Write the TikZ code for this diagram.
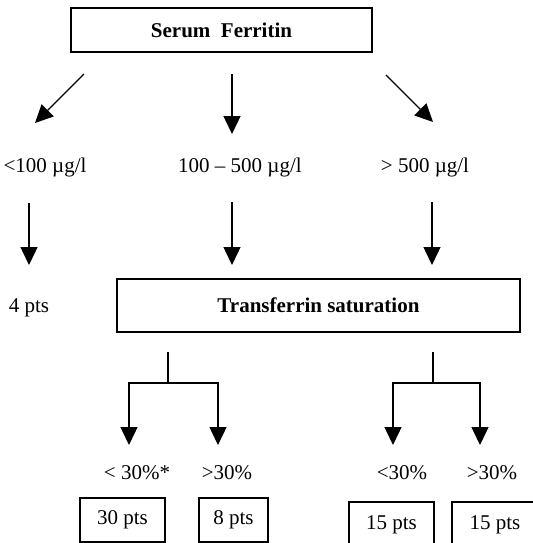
\documentclass[tikz,border=0pt]{standalone}
\usepackage{fontspec}
\setmainfont{Liberation Serif}
\usetikzlibrary{arrows.meta}

\begin{document}
\begin{tikzpicture}[x=0.5pt,y=-0.5pt,
	box/.style={draw,line width=0.9pt,inner sep=0pt,font=\bfseries\fontsize{10.5}{12}\selectfont},
	ptsbox/.style={draw,line width=0.9pt,inner sep=0pt,font=\fontsize{10.5}{12}\selectfont},
	lab/.style={inner sep=0pt,font=\fontsize{10.5}{12}\selectfont},
	arr/.style={line width=0.7pt,-{Triangle[width=8.5pt,length=9pt]}}]
	\useasboundingbox (0,0) rectangle (533,543);

	% boxes
	\node[box,minimum width=150.5pt,minimum height=22pt] (ferritin) at (221.5,30) {Serum\ \ Ferritin};
	\node[box,minimum width=201.5pt,minimum height=26.5pt] (tsat) at (318.5,305.5) {Transferrin saturation};

	% ferritin ranges
	\node[lab] (low) at (45,167) {<100 µg/l};
	\node[lab] (mid) at (240,167) {100 – 500 µg/l};
	\node[lab] (high) at (425,167) {> 500 µg/l};
	\node[lab] (four) at (29,308) {4 pts};

	% saturation ranges
	\node[lab] (sat1) at (137,473) {< 30\%*};
	\node[lab] (sat2) at (227,473) {>30\%};
	\node[lab] (sat3) at (402,473) {<30\%};
	\node[lab] (sat4) at (492,473) {>30\%};

	\node[ptsbox,minimum width=42.5pt,minimum height=22pt] (p1) at (122.5,520) {30 pts};
	\node[ptsbox,minimum width=34.5pt,minimum height=22pt] (p2) at (233.5,520) {8 pts};
	\node[ptsbox,minimum width=42.5pt,minimum height=23pt] (p3) at (391.5,525) {15 pts};
	\node[ptsbox,minimum width=43pt,minimum height=23pt] (p4) at (495,525) {15 pts};

	% arrow ends
	\coordinate (s1) at (84,74);   \coordinate (e1) at (35,123);
	\coordinate (s2) at (232,74);  \coordinate (e2) at (232,134);
	\coordinate (s3) at (386,75);  \coordinate (e3) at (433,122);
	\coordinate (s4) at (29,203);  \coordinate (e4) at (29,265);
	\coordinate (s5) at (232,202); \coordinate (e5) at (232,265);
	\coordinate (s6) at (432,202); \coordinate (e6) at (432,265);

	\foreach \a/\b in {s1/e1,s2/e2,s3/e3,s4/e4,s5/e5,s6/e6}{
		\draw[arr] (\a) -- (\b);
	}

	% branches below transferrin saturation
	\coordinate (j1) at (168,352); \coordinate (k1) at (168,383);
	\coordinate (j2) at (433,352); \coordinate (k2) at (433,383);
	\coordinate (d1) at (129,445); \coordinate (d2) at (218,445);
	\coordinate (d3) at (393,445); \coordinate (d4) at (480,445);

	\draw[line width=0.7pt] (j1) -- (k1);
	\draw[line width=0.7pt] (j2) -- (k2);
	\draw[arr] (k1) -| (d1);
	\draw[arr] (k1) -| (d2);
	\draw[arr] (k2) -| (d3);
	\draw[arr] (k2) -| (d4);
\end{tikzpicture}
\end{document}
